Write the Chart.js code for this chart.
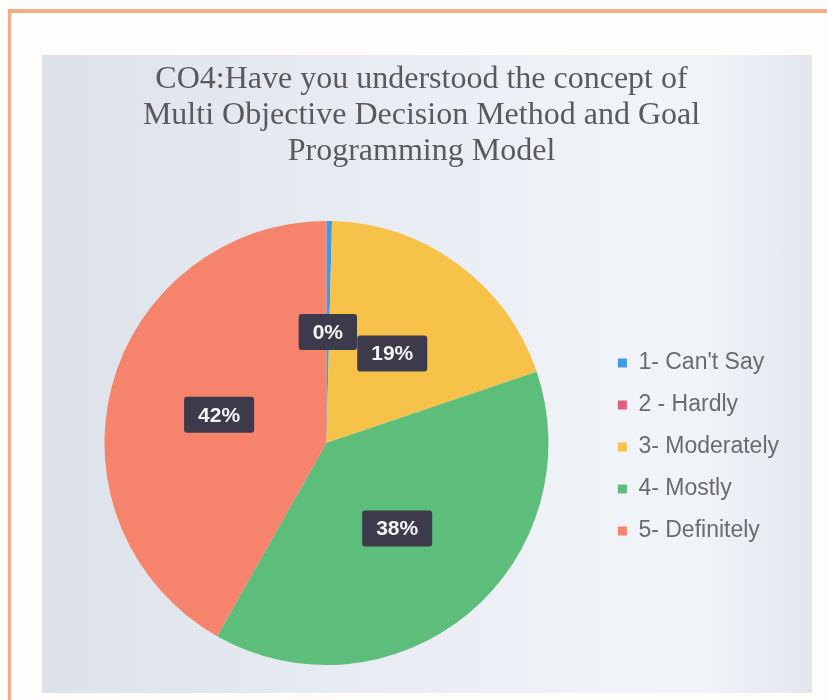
<!DOCTYPE html>
<html>
<head>
<meta charset="utf-8">
<script src="https://cdn.jsdelivr.net/npm/chart.js@4.4.1/dist/chart.umd.min.js"></script>
<style>
body { margin:0; background:#fffdfb; width:827px; height:700px; overflow:hidden; position:relative; }
#frame { position:absolute; left:8px; top:9px; width:830px; height:700px; border-top:4px solid #f1ac88; border-left:3px solid #f1ac88; }
#panel { position:absolute; left:42px; top:55px; width:770px; height:638px;
  background:linear-gradient(90deg, #dde2ea 0%, #e6eaf1 35%, #eef2f7 65%, #f1f4f8 85%, #e3e7ee 100%); }
</style>
</head>
<body>
<div id="frame"></div>
<div id="panel"><canvas id="pie" width="770" height="638"></canvas></div>
<script>
// survey answers, percent of students
const categories = ["1- Can't Say", '2 - Hardly', '3- Moderately', '4- Mostly', '5- Definitely'];
const shares = [0.4, 0, 19.4, 38.4, 41.8];
const sliceColors = ['#3d9ae6', '#e1607a', '#f6c249', '#5dbd7b', '#f6836b'];
const titleLines = ['CO4:Have you understood the concept of', 'Multi Objective Decision Method and Goal', 'Programming Model'];

// dark boxes with the percent inside each slice
const boxLabels = {
    id: 'boxLabels',
    afterDatasetsDraw(chart) {
        const ctx = chart.ctx;
        const meta = chart.getDatasetMeta(0);
        const total = shares.reduce((a, b) => a + b, 0);
        ctx.save();
        ctx.font = 'bold 21px "Liberation Sans", Arial, sans-serif';
        ctx.textAlign = 'center';
        ctx.textBaseline = 'middle';
        meta.data.forEach((arc, i) => {
            if (!shares[i]) return;
            const txt = Math.round(shares[i] / total * 100) + '%';
            const p = arc.tooltipPosition();
            const w = ctx.measureText(txt).width + 28, h = 36;
            ctx.fillStyle = '#3d3b4b';
            ctx.beginPath();
            ctx.roundRect(p.x - w / 2, p.y - h / 2, w, h, 3);
            ctx.fill();
            ctx.fillStyle = '#f4f4f4';
            ctx.fillText(txt, p.x, p.y + 1);
        });
        ctx.restore();
    }
};

const ctx = document.getElementById('pie').getContext('2d');
const myChart = new Chart(ctx, {
    type: 'pie',
    data: {
        labels: categories,
        datasets: [{
            data: shares,
            backgroundColor: sliceColors,
            borderWidth: 0
        }]
    },
    options: {
        responsive: false,
        animation: false,
        layout: { padding: { left: 12, right: 23, top: 0, bottom: 28 } },
        plugins: {
            title: {
                display: true,
                text: titleLines,
                color: '#5a5a5a',
                font: { family: '"Liberation Serif", "Times New Roman", serif', size: 32, weight: 'normal', lineHeight: 1.125 },
                padding: { top: 7, bottom: 51 }
            },
            legend: {
                position: 'right',
                // empty title only pushes the items down to the pie's middle
                title: { display: true, text: '', font: { size: 10, lineHeight: 1 }, padding: { top: 0, bottom: 164 } },
                labels: {
                    boxWidth: 9,
                    boxHeight: 9,
                    padding: 19,
                    color: '#6b6b6b',
                    font: { family: '"Liberation Sans", Arial, sans-serif', size: 23 }
                }
            },
            tooltip: { enabled: false }
        }
    },
    plugins: [boxLabels]
});
</script>
</body>
</html>
